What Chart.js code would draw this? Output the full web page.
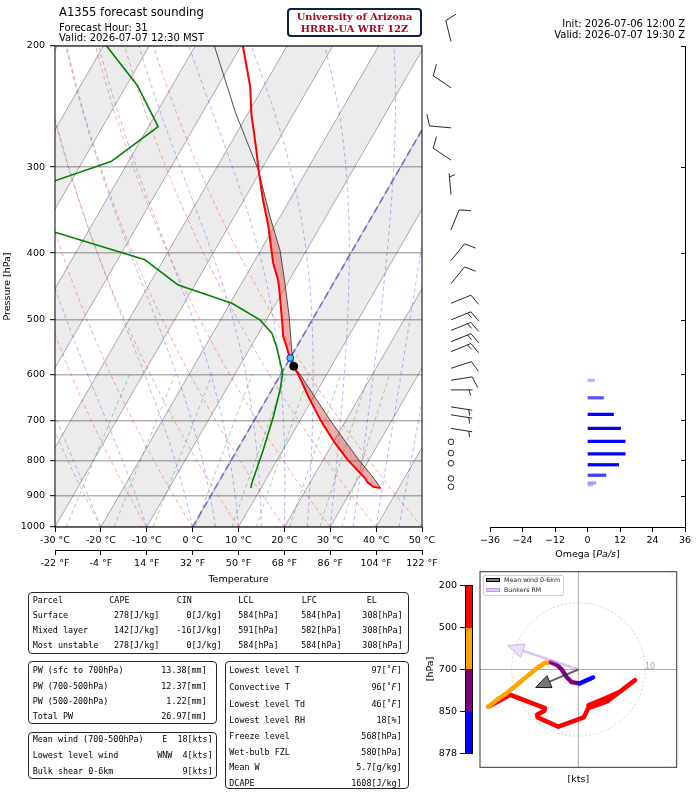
<!DOCTYPE html>
<html>
<head>
<meta charset="utf-8">
<title>A1355 forecast sounding</title>
<script src="https://cdn.jsdelivr.net/npm/chart.js@4.4.1/dist/chart.umd.min.js"></script>
<style>
  html, body { margin: 0; padding: 0; background: #fff; }
  body { position: relative; width: 697px; height: 792px; overflow: hidden; font-family: "DejaVu Sans", sans-serif; color: #000; }
  canvas { position: absolute; }
  .t { position: absolute; white-space: pre; line-height: 1; }
  .box { position: absolute; box-sizing: border-box; border: 1.4px solid #262626; border-radius: 4px; }
  .mono { font-family: "DejaVu Sans Mono", monospace; font-size: 8.4px; }
</style>
</head>
<body>
<canvas id="skew" width="444" height="592" style="left:0;top:0"></canvas>
<canvas id="omega" width="273" height="592" style="left:424px;top:0"></canvas>
<canvas id="hodo" width="210" height="210" style="left:476px;top:566px"></canvas>

<div class="box" style="left:287px;top:8px;width:135px;height:29px;border:2px solid #0c234b;border-radius:4px"></div>

<div class="box" style="left:28px;top:591.5px;width:380.5px;height:62px"></div>
<div class="box" style="left:28px;top:661px;width:189px;height:62.5px"></div>
<div class="box" style="left:28px;top:731.5px;width:189px;height:47px"></div>
<div class="box" style="left:225px;top:661px;width:183.5px;height:127.5px"></div>

<div id="cbar" style="position:absolute;left:464.5px;top:585px;width:8.5px;height:168.5px;box-sizing:border-box;border:1px solid #000"></div>
<div style="position:absolute;left:483px;top:575px;width:81px;height:21px;box-sizing:border-box;border:1px solid #d0d0d0;border-radius:2px;background:rgba(255,255,255,0.85)"></div>
<div style="position:absolute;left:485.5px;top:577.5px;width:14px;height:4.5px;background:rgba(80,80,80,0.75);border:0.8px solid #000;box-sizing:border-box"></div>
<div style="position:absolute;left:485.5px;top:587.5px;width:14px;height:4.5px;background:rgba(215,180,240,0.7);border:0.8px solid rgba(190,150,230,0.9);box-sizing:border-box"></div>

<script>
// ---- sounding profiles (pressure hPa, deg C) ----
const TEMP_P = [878, 874, 860, 850, 800, 750, 700, 650, 600, 584, 569, 547, 529, 500, 458, 438, 414, 400, 366, 335, 300, 283, 251, 229, 200];
const TEMP_C = [36.1, 34.3, 32.4, 31.5, 25.5, 19.9, 14.5, 9.2, 3.8, 1.7, 0.0, -2.2, -4.2, -6.6, -10.4, -12.4, -15.6, -17.2, -21.3, -25.8, -31.0, -33.6, -39.2, -42.9, -49.6];
const DEW_P = [878, 864, 773, 691, 632, 598, 591, 547, 523, 500, 473, 445, 409, 373, 345, 314, 294, 262, 228, 200];
const DEW_C = [7.8, 7.4, 5.7, 3.7, 1.8, 0.3, -0.3, -4.4, -7.1, -11.4, -19.6, -33.6, -44.0, -67.1, -86.0, -73.6, -63.7, -57.9, -67.7, -79.3];
const PARCEL_P = [878, 850, 800, 750, 700, 650, 600, 584, 553, 495, 443, 396, 354, 303, 250, 200];
const PARCEL_C = [36.1, 33.4, 27.9, 22.4, 16.6, 10.6, 4.2, 1.8, -0.7, -5.4, -10.5, -15.8, -22.2, -30.6, -42.8, -55.8];
const MARK_P = [568, 584];   // freezing level, LCL
const MARK_C = [0.0, 1.8];
const EL_P = 300;

// ---- omega and wind barbs ----
const OMEGA_P = [612, 649, 686, 719, 751, 783, 812, 841, 863, 869];
const OMEGA = [2.6, 5.9, 9.6, 12.2, 13.9, 13.9, 11.5, 6.8, 3.1, 2.0];
const WIND_P = [197, 230, 263, 293, 329, 370, 410, 443, 473, 500, 518, 538, 556, 588, 612, 632, 669, 687, 719, 752, 781, 808, 850, 874];
const WIND_DIR = [346, 304, 275, 304, 355, 22, 39, 39, 68, 68, 68, 68, 68, 72, 81, 90, 99, 99, 99, 0, 0, 0, 0, 0];
const WIND_KT = [10, 10, 10, 10, 5, 10, 10, 10, 10, 15, 15, 15, 15, 10, 10, 5, 5, 5, 5, 0, 0, 0, 0, 0];

// ---- hodograph (kts) ----
const HODO_P = [878, 865, 850, 820, 790, 760, 730, 700, 680, 660, 640, 610, 580, 550, 500, 473, 455, 445, 435, 425, 380, 340, 325, 300, 270, 245, 225, 200];
const HODO_U = [2.2, 1.3, 0.2, -1.0, -1.7, -2.5, -3.2, -4.1, -5.0, -6.2, -7.7, -9.2, -10.7, -12.0, -13.5, -10.2, -5.0, -5.1, -6.2, -6.1, -3.0, 0.8, 1.5, 4.3, 8.5, 6.3, 4.3, 1.5];
const HODO_V = [-1.2, -1.6, -2.1, -1.9, -1.2, 0.0, 0.7, 1.1, 1.0, 0.2, -1.0, -2.3, -3.5, -4.4, -5.6, -3.8, -5.8, -6.2, -6.8, -7.2, -8.6, -7.2, -5.8, -4.8, -1.6, -3.3, -4.2, -5.4];
const HODO_BOUNDS = [200, 500, 700, 850, 878];
const HODO_COLORS = ['#ff0000', '#ffa500', '#800080', '#0000ff'];
const MEAN_WIND = [-6.4, -2.7];
const BUNKERS_RM = [-10.6, 3.6];
const HODO_RINGS = [10, 20];

// ---- axes ----
const P_TICKS = [1000, 900, 800, 700, 600, 500, 400, 300, 200];
const ISOTHERMS = [-100, -90, -80, -70, -60, -50, -40, -30, -20, -10, 0, 10, 20, 30, 40, 50];
const BAND_T0 = [-80, -60, -40, -20, 0, 20, 40];
const DRY_T0 = [-30, -20, -10, 0, 10, 20, 30, 40, 50];
const MOIST_T0 = [-30, -20, -10, 0, 5, 10, 15, 20, 25, 30, 35, 40, 45, 50];
const MIX_W = [0.0004, 0.001, 0.002, 0.004, 0.007, 0.01, 0.016, 0.024, 0.032];

// ---- text tables ----
const PARCEL_HEAD = ['Parcel', 'CAPE', 'CIN', 'LCL', 'LFC', 'EL'];
const PARCEL_ROWS = [
  ['Surface', '278[J/kg]', '0[J/kg]', '584[hPa]', '584[hPa]', '308[hPa]'],
  ['Mixed layer', '142[J/kg]', '-16[J/kg]', '591[hPa]', '582[hPa]', '308[hPa]'],
  ['Most unstable', '278[J/kg]', '0[J/kg]', '584[hPa]', '584[hPa]', '308[hPa]']
];
const PW_ROWS = [['PW (sfc to 700hPa)', '13.38[mm]'], ['PW (700-500hPa)', '12.37[mm]'], ['PW (500-200hPa)', '1.22[mm]'], ['Total PW', '26.97[mm]']];
const WIND_ROWS = [['Mean wind (700-500hPa)', 'E  18[kts]'], ['Lowest level wind', 'WNW  4[kts]'], ['Bulk shear 0-6km', '9[kts]']];
const PARAM_ROWS = [
  ['Lowest level T', '97[˚<i>F</i>]'], ['Convective T', '96[˚<i>F</i>]'], ['Lowest level Td', '46[˚<i>F</i>]'],
  ['Lowest level RH', '18[%]'], ['Freeze level', '568[hPa]'], ['Wet-bulb FZL', '580[hPa]'],
  ['Mean W', '5.7[g/kg]'], ['DCAPE', '1608[J/kg]']
];

Chart.defaults.font.family = '"DejaVu Sans", sans-serif';
Chart.defaults.color = '#000';
const FONT = { size: 9.5 };

// skew-T coordinates: x = T + K * ln(1000/p), y = ln(1000/p)
const K = 37.62;
const lnp = p => Math.log(1000 / p);
const pt = (t, p) => ({ x: t + K * lnp(p), y: lnp(p) });

function dewFromMix(w, p) {
  const a = Math.log(p * w / (0.622 + w) / 6.112);
  return 243.5 * a / (17.67 - a);
}

function moistAdiabat(t0) {
  const Rd = 287.04, Cp = 1005.7, Lv = 2.501e6, eps = 0.622;
  const slope = (T, p) => {
    const tc = T - 273.15;
    const es = 6.112 * Math.exp(17.67 * tc / (tc + 243.5));
    const rs = eps * es / (p - es);
    return (Rd * T + Lv * rs) / (Cp + Lv * Lv * rs * eps / (Rd * T * T)) / p;
  };
  const out = [pt(t0, 1000)];
  let T = t0 + 273.15, p = 1000;
  while (p > 200) {
    const dp = -5;
    const k1 = slope(T, p);
    T += slope(T + k1 * dp / 2, p + dp / 2) * dp;
    p += dp;
    if (p % 25 === 0) out.push(pt(T - 273.15, p));
  }
  return out;
}

function line(data, color, width, dash, order, extra) {
  return Object.assign({ type: 'line', data, borderColor: color, borderWidth: width, borderDash: dash,
    pointRadius: 0, fill: false, tension: 0, order }, extra || {});
}

const LEVELS = [];
for (let p = 1000; p >= 200; p -= 25) LEVELS.push(p);

const skewSets = [];
BAND_T0.forEach(t0 => skewSets.push(line([pt(t0, 1000), pt(t0 + 10, 1000), pt(t0 + 10, 200), pt(t0, 200), pt(t0, 1000)],
  'rgba(0,0,0,0)', 0, [], 100, { fill: 'shape', backgroundColor: 'rgba(0,0,0,0.075)' })));
ISOTHERMS.forEach(t => skewSets.push(line([pt(t, 1000), pt(t, 200)], 'rgba(0,0,0,0.36)', 0.9, [], 90)));
DRY_T0.forEach(t0 => skewSets.push(line(LEVELS.map(p => pt((t0 + 273.15) * Math.pow(p / 1000, 0.2857) - 273.15, p)),
  'rgba(255,0,0,0.38)', 0.9, [4, 3], 80)));
MOIST_T0.forEach(t0 => skewSets.push(line(moistAdiabat(t0), 'rgba(0,0,255,0.32)', 0.9, [4, 3], 80)));
MIX_W.forEach(w => skewSets.push(line([1000, 900, 800, 700, 600].map(p => pt(dewFromMix(w, p), p)),
  'rgba(0,128,0,0.38)', 0.9, [4, 3], 80)));
skewSets.push(line([pt(0, 1000), pt(0, 200)], 'rgba(50,50,210,0.55)', 1.8, [7, 4], 70));

// CAPE shading: parcel up to the EL, environment back down
const capeUp = PARCEL_P.map((p, i) => pt(PARCEL_C[i], p)).filter(q => q.y <= lnp(EL_P) + 0.02);
const capeDown = TEMP_P.map((p, i) => pt(TEMP_C[i], p)).filter(q => q.y <= lnp(EL_P) + 0.001).reverse();
skewSets.push(line(capeUp.concat(capeDown, [capeUp[0]]), 'rgba(0,0,0,0)', 0, [], 60,
  { fill: 'shape', backgroundColor: 'rgba(220,35,35,0.38)' }));

skewSets.push(line(PARCEL_P.map((p, i) => pt(PARCEL_C[i], p)), 'rgba(50,50,50,0.85)', 1, [], 50));
skewSets.push(line(TEMP_P.map((p, i) => pt(TEMP_C[i], p)), '#ff0000', 2, [], 40, { borderJoinStyle: 'round' }));
skewSets.push(line(DEW_P.map((p, i) => pt(DEW_C[i], p)), '#008000', 1.6, [], 40, { borderJoinStyle: 'round' }));
skewSets.push({ type: 'scatter', data: MARK_P.map((p, i) => pt(MARK_C[i], p)), order: 10,
  pointRadius: [3.4, 4], pointBackgroundColor: ['#36c9f7', '#000'], pointBorderColor: ['#1010f0', '#000'], pointBorderWidth: 1 });

const frame = {
  id: 'frame',
  afterDatasetsDraw(chart) {
    const { ctx, chartArea: a } = chart;
    ctx.save();
    ctx.strokeStyle = '#000';
    ctx.lineWidth = 1;
    ctx.strokeRect(a.left, a.top, a.right - a.left, a.bottom - a.top);
    ctx.restore();
  }
};

new Chart(document.getElementById('skew'), {
  type: 'line',
  data: { datasets: skewSets },
  options: {
    responsive: false, animation: false, events: [],
    layout: { padding: { top: 46, right: 22, left: 0, bottom: 0 } },
    plugins: { legend: { display: false }, tooltip: { enabled: false } },
    scales: {
      x: {
        type: 'linear', min: -30, max: 50, weight: 0,
        ticks: { stepSize: 10, font: FONT, padding: 3, maxRotation: 0, autoSkip: false, callback: v => v + ' °C' },
        grid: { drawOnChartArea: false, tickLength: 5, tickColor: '#000' },
        border: { display: false },
        afterFit: s => { s.height = 23; }
      },
      x2: {
        axis: 'x', type: 'linear', position: 'bottom', min: -30, max: 50, weight: 1,
        ticks: { stepSize: 10, font: FONT, padding: 3, maxRotation: 0, autoSkip: false, callback: v => Math.round(v * 9 / 5 + 32) + ' °F' },
        grid: { drawOnChartArea: false, tickLength: 5, tickColor: '#000' },
        border: { display: true, color: '#000', width: 1 },
        title: { display: true, text: 'Temperature', font: FONT, padding: { top: 0, bottom: 7 } },
        afterFit: s => { s.height = 42; }
      },
      y: {
        type: 'linear', min: 0, max: lnp(200),
        afterBuildTicks: ax => { ax.ticks = P_TICKS.map(p => ({ value: lnp(p) })); },
        ticks: { font: FONT, padding: 5, callback: v => String(Math.round(1000 / Math.exp(v))) },
        grid: { color: '#b4b4b4', lineWidth: 1.4, tickLength: 5, tickColor: '#000', tickWidth: 1 },
        border: { display: false },
        title: { display: true, text: 'Pressure [hPa]', font: FONT, padding: { top: 2, bottom: 0 } },
        afterFit: s => { s.width = 55; }
      }
    }
  },
  plugins: [frame]
});

// ---- omega panel with wind barbs ----
function drawBarb(ctx, x, y, dir, kt) {
  ctx.strokeStyle = '#111';
  ctx.lineWidth = 0.9;
  if (kt < 2.5) {
    ctx.beginPath();
    ctx.arc(x, y, 2.8, 0, Math.PI * 2);
    ctx.stroke();
    return;
  }
  const r = dir * Math.PI / 180;
  const ux = Math.sin(r), uy = -Math.cos(r), nx = -uy, ny = ux;
  const len = 21.5, full = 12, gap = 3.6;
  const tick = (d, l) => {
    const sx = x + ux * d, sy = y + uy * d;
    ctx.moveTo(sx, sy);
    ctx.lineTo(sx + l * (0.95 * nx + 0.31 * ux), sy + l * (0.95 * ny + 0.31 * uy));
  };
  ctx.beginPath();
  ctx.moveTo(x, y);
  ctx.lineTo(x + ux * len, y + uy * len);
  let rest = Math.round(kt / 5) * 5, d = len;
  if (rest === 5) d -= gap;
  while (rest >= 10) { tick(d, full); rest -= 10; d -= gap; }
  if (rest >= 5) tick(d, full / 2);
  ctx.stroke();
}

const omegaDecor = {
  id: 'omegaDecor',
  afterDraw(chart) {
    const { ctx, chartArea: a, scales: { y } } = chart;
    ctx.save();
    ctx.strokeStyle = '#000';
    ctx.lineWidth = 1;
    ctx.beginPath();
    ctx.moveTo(a.right + 0.5, a.top);
    ctx.lineTo(a.right + 0.5, a.bottom);
    P_TICKS.forEach(p => {
      const yy = Math.round(y.getPixelForValue(lnp(p))) + 0.5;
      ctx.moveTo(a.right, yy);
      ctx.lineTo(a.right - 4, yy);
    });
    ctx.stroke();
    WIND_P.forEach((p, i) => drawBarb(ctx, a.left - 39, y.getPixelForValue(lnp(p)), WIND_DIR[i], WIND_KT[i]));
    ctx.restore();
  }
};

new Chart(document.getElementById('omega'), {
  type: 'bar',
  data: {
    datasets: [{
      data: OMEGA_P.map((p, i) => ({ x: OMEGA[i], y: lnp(p) })),
      backgroundColor: OMEGA.map(w => 'rgba(0,0,255,' + Math.min(1, Math.abs(w) / 9).toFixed(2) + ')'),
      barThickness: 2.6, borderWidth: 0
    }]
  },
  options: {
    indexAxis: 'y', responsive: false, animation: false, events: [],
    layout: { padding: { left: 66, right: 12, top: 46, bottom: 0 } },
    plugins: { legend: { display: false }, tooltip: { enabled: false } },
    scales: {
      x: {
        type: 'linear', min: -36, max: 36, offset: false,
        ticks: { stepSize: 12, font: FONT, padding: 3, maxRotation: 0, callback: v => (v < 0 ? '\u2212' + Math.abs(v) : String(v)) },
        grid: { drawOnChartArea: false, tickLength: 5, tickColor: '#000' },
        border: { display: true, color: '#000', width: 1 },
        afterFit: s => { s.height = 65; }
      },
      y: { type: 'linear', min: 0, max: lnp(200), offset: false, display: false }
    }
  },
  plugins: [omegaDecor]
});

// ---- hodograph ----
const hodoSets = HODO_COLORS.map((c, k) => {
  const lo = HODO_BOUNDS[k], hi = HODO_BOUNDS[k + 1];
  const pts = HODO_P.map((p, i) => ({ p, x: HODO_U[i], y: HODO_V[i] })).filter(q => q.p >= lo && q.p <= hi);
  return { type: 'line', data: pts.map(q => ({ x: q.x, y: q.y })), borderColor: c, borderWidth: 4.5,
    borderCapStyle: 'round', borderJoinStyle: 'round', pointRadius: 0, tension: 0, order: 10 - k };
});

function arrow(ctx, x0, y0, x1, y1, o) {
  const dx = x1 - x0, dy = y1 - y0, len = Math.hypot(dx, dy);
  const ux = dx / len, uy = dy / len, nx = -uy, ny = ux;
  const bx = x1 - ux * o.head, by = y1 - uy * o.head;
  ctx.lineWidth = o.shaft;
  ctx.strokeStyle = o.line;
  ctx.beginPath(); ctx.moveTo(x0, y0); ctx.lineTo(bx, by); ctx.stroke();
  ctx.beginPath();
  ctx.moveTo(x1, y1);
  ctx.lineTo(bx + nx * o.half, by + ny * o.half);
  ctx.lineTo(bx - nx * o.half, by - ny * o.half);
  ctx.closePath();
  ctx.fillStyle = o.fill; ctx.fill();
  ctx.lineWidth = 1; ctx.strokeStyle = o.edge; ctx.stroke();
}

const hodoDecor = {
  id: 'hodoDecor',
  beforeDatasetsDraw(chart) {
    const { ctx, chartArea: a, scales: { x, y } } = chart;
    const cx = x.getPixelForValue(0), cy = y.getPixelForValue(0);
    ctx.save();
    ctx.beginPath(); ctx.rect(a.left, a.top, a.right - a.left, a.bottom - a.top); ctx.clip();
    ctx.strokeStyle = '#c8c8c8'; ctx.lineWidth = 0.8; ctx.setLineDash([2, 2]);
    HODO_RINGS.forEach(r => {
      ctx.beginPath();
      ctx.arc(cx, cy, x.getPixelForValue(r) - cx, 0, Math.PI * 2);
      ctx.stroke();
    });
    ctx.setLineDash([]);
    ctx.strokeStyle = '#a0a0a0'; ctx.lineWidth = 0.9;
    ctx.beginPath();
    ctx.moveTo(a.left, cy); ctx.lineTo(a.right, cy);
    ctx.moveTo(cx, a.top); ctx.lineTo(cx, a.bottom);
    ctx.stroke();
    ctx.fillStyle = '#a8a8a8'; ctx.font = '8px "DejaVu Sans"'; ctx.textBaseline = 'bottom';
    ctx.fillText(String(HODO_RINGS[0]), x.getPixelForValue(HODO_RINGS[0]), cy + 1);
    ctx.restore();
  },
  afterDatasetsDraw(chart) {
    const { ctx, chartArea: a, scales: { x, y } } = chart;
    const cx = x.getPixelForValue(0), cy = y.getPixelForValue(0);
    ctx.save();
    arrow(ctx, cx, cy, x.getPixelForValue(BUNKERS_RM[0]), y.getPixelForValue(BUNKERS_RM[1]),
      { shaft: 2.6, line: 'rgba(205,165,238,0.65)', head: 16, half: 7, fill: 'rgba(222,195,246,0.5)', edge: 'rgba(195,155,232,0.75)' });
    arrow(ctx, cx, cy, x.getPixelForValue(MEAN_WIND[0]), y.getPixelForValue(MEAN_WIND[1]),
      { shaft: 2, line: 'rgba(60,60,60,0.8)', head: 15, half: 6.5, fill: 'rgba(85,85,85,0.8)', edge: 'rgba(0,0,0,0.85)' });
    ctx.strokeStyle = '#333'; ctx.lineWidth = 1;
    ctx.strokeRect(a.left, a.top, a.right - a.left, a.bottom - a.top);
    ctx.restore();
  }
};

new Chart(document.getElementById('hodo'), {
  type: 'line',
  data: { datasets: hodoSets },
  options: {
    responsive: false, animation: false, events: [],
    layout: { padding: { left: 4, top: 5.7, right: 9.3, bottom: 8.7 } },
    plugins: { legend: { display: false }, tooltip: { enabled: false } },
    scales: {
      x: { type: 'linear', min: -14.75, max: 14.75, display: false },
      y: { type: 'linear', min: -14.7, max: 14.7, display: false }
    }
  },
  plugins: [hodoDecor]
});

// ---- text ----
function put(x, y, html, align, style) {
  const d = document.createElement('div');
  d.className = 't';
  d.style.left = x + 'px';
  d.style.top = y + 'px';
  const tx = align === 'r' ? '-100%' : align === 'c' ? '-50%' : '0';
  d.style.transform = 'translate(' + tx + ',-50%)';
  if (style) d.style.cssText += style;
  d.innerHTML = html;
  document.body.appendChild(d);
  return d;
}

put(59, 13.2, 'A1355 forecast sounding', 'l', 'font-size:11.6px');
put(59, 28.2, 'Forecast Hour: 31', 'l', 'font-size:10px');
put(59, 38.2, 'Valid: 2026-07-07 12:30 MST', 'l', 'font-size:10px');
put(354.5, 16, 'University of Arizona', 'c', 'font:bold 9.8px "DejaVu Serif",serif;color:#ab0520');
put(354.5, 28.3, 'HRRR-UA WRF 12Z', 'c', 'font:bold 9.8px "DejaVu Serif",serif;color:#ab0520');
put(685, 23.5, 'Init: 2026-07-06 12:00 Z', 'r', 'font-size:10px');
put(685, 35, 'Valid: 2026-07-07 19:30 Z', 'r', 'font-size:10px');
put(587.5, 553.5, 'Omega [<i>Pa/s</i>]', 'c', 'font-size:9.5px');

const HEAD_X = [32.7, 109.3, 176.7, 238.3, 301.7, 366.7];
const VAL_X = [[32.7, 'l'], [159.3, 'r'], [221.7, 'r'], [238.3, 'l'], [301.2, 'l'], [402.7, 'r']];
PARCEL_HEAD.forEach((h, j) => put(HEAD_X[j], 600, h, 'l').classList.add('mono'));
PARCEL_ROWS.forEach((row, i) => row.forEach((s, j) => put(VAL_X[j][0], 615 + 15 * i, s, VAL_X[j][1]).classList.add('mono')));
PW_ROWS.forEach((row, i) => {
  const y = [670, 685.7, 700.7, 716][i];
  put(32.7, y, row[0], 'l').classList.add('mono');
  put(206.7, y, row[1], 'r').classList.add('mono');
});
WIND_ROWS.forEach((row, i) => {
  const y = [738.5, 755, 770.7][i];
  put(32.7, y, row[0], 'l').classList.add('mono');
  put(212.7, y, row[1], 'r').classList.add('mono');
});
PARAM_ROWS.forEach((row, i) => {
  const y = [670, 687.3, 704, 720, 735.7, 751.7, 767.3, 782.7][i];
  put(229.3, y, row[0], 'l').classList.add('mono');
  put(401.7, y, row[1], 'r').classList.add('mono');
});

// colour bar for the hodograph layers
const cbar = document.getElementById('cbar');
HODO_COLORS.forEach(c => {
  const seg = document.createElement('div');
  seg.style.cssText = 'height:25%;background:' + c;
  cbar.appendChild(seg);
});
HODO_BOUNDS.forEach((p, i) => {
  const y = 585 + i * 42.1;
  const tk = document.createElement('div');
  tk.style.cssText = 'position:absolute;left:460px;width:4.5px;height:1px;background:#000;top:' + (y - 0.5) + 'px';
  document.body.appendChild(tk);
  put(457, y, String(p), 'r', 'font-size:9.5px');
});
put(430, 669, '[hPa]', 'c', 'font-size:9.5px;transform:translate(-50%,-50%) rotate(-90deg)');
put(578.3, 778.5, '[kts]', 'c', 'font-size:9.5px');
put(504, 579.8, 'Mean wind 0-6km', 'l', 'font-size:6.3px;color:#222');
put(504, 589.8, 'Bunkers RM', 'l', 'font-size:6.3px;color:#222');
</script>
</body>
</html>
